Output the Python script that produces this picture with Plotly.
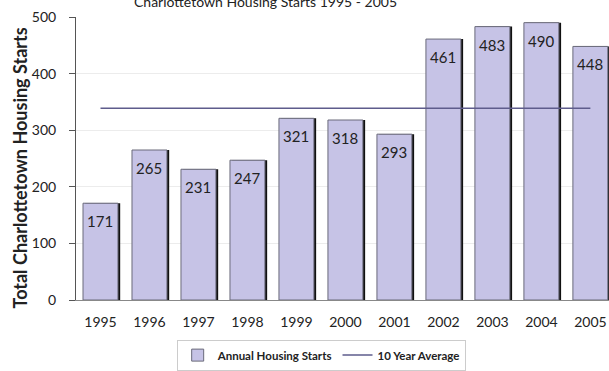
import plotly.graph_objects as go

years = ["1995", "1996", "1997", "1998", "1999", "2000", "2001", "2002", "2003", "2004", "2005"]
starts = [171, 265, 231, 247, 321, 318, 293, 461, 483, 490, 448]
average = [339] * len(years)

bar_color = "#c6c3e6"
font_family = "Lato, 'Open Sans', sans-serif"
W = 0.714

fig = go.Figure()
# shadow bars (dark, shifted right)
fig.add_trace(go.Bar(
    x=years, y=starts, width=W, offset=-W / 2 + 0.045,
    marker=dict(color="#111111", line=dict(width=0)),
    showlegend=False, hoverinfo="skip",
))
fig.add_trace(go.Bar(
    x=years, y=starts, width=W, offset=-W / 2,
    name="Annual Housing Starts",
    marker=dict(color=bar_color, line=dict(color="#6a6a7a", width=1)),
))
fig.add_trace(go.Scatter(
    x=years, y=average, mode="lines", name="10 Year Average",
    line=dict(color="#5e5c8c", width=1.5),
))

for i, v in enumerate(starts):
    fig.add_annotation(
        x=i, y=v, text=str(v), showarrow=False, yanchor="top", yshift=-7,
        font=dict(size=15, color="#222222", family=font_family),
    )

fig.add_annotation(
    xref="paper", yref="paper", x=0.355, y=1, yanchor="middle", yshift=16,
    text="Charlottetown Housing Starts 1995 - 2005", showarrow=False,
    font=dict(size=14, color="#222222", family=font_family),
)

# y-axis title (placed to match the reference position)
fig.add_annotation(
    xref="paper", yref="paper", x=0, y=0.5, xanchor="center", yanchor="middle",
    xshift=-57, yshift=-10, textangle=-90,
    text="<b>Total Charlottetown Housing Starts</b>", showarrow=False,
    font=dict(size=18, color="#222222", family=font_family),
)

fig.update_layout(
    width=609, height=371,
    margin=dict(l=76, r=0, t=17, b=62),
    paper_bgcolor="white", plot_bgcolor="white",
    barmode="overlay",
    font=dict(family=font_family, color="#222222"),
    showlegend=True,
    legend=dict(
        orientation="h", x=0.46, xanchor="center", y=-0.14, yanchor="top",
        bordercolor="#cccccc", borderwidth=1,
        font=dict(size=11.5, color="#222222", family=font_family, weight="bold"),
        itemwidth=30, tracegroupgap=0,
    ),
    xaxis=dict(
        type="category", range=[-0.5, 10.38],
        showline=True, linecolor="#888888", linewidth=1,
        ticks="", showgrid=False, ticklabelstandoff=9,
        tickfont=dict(size=14, color="#222222"),
    ),
    yaxis=dict(
        range=[0, 500], dtick=100,
        showline=True, linecolor="#555555", linewidth=1,
        ticks="outside", ticklen=6, tickcolor="#555555",
        ticklabelstandoff=10,
        showgrid=True, gridcolor="#ececec", gridwidth=1,
        tickfont=dict(size=14, color="#222222"),
        zeroline=False,
    ),
)

fig.write_html("out.html")
